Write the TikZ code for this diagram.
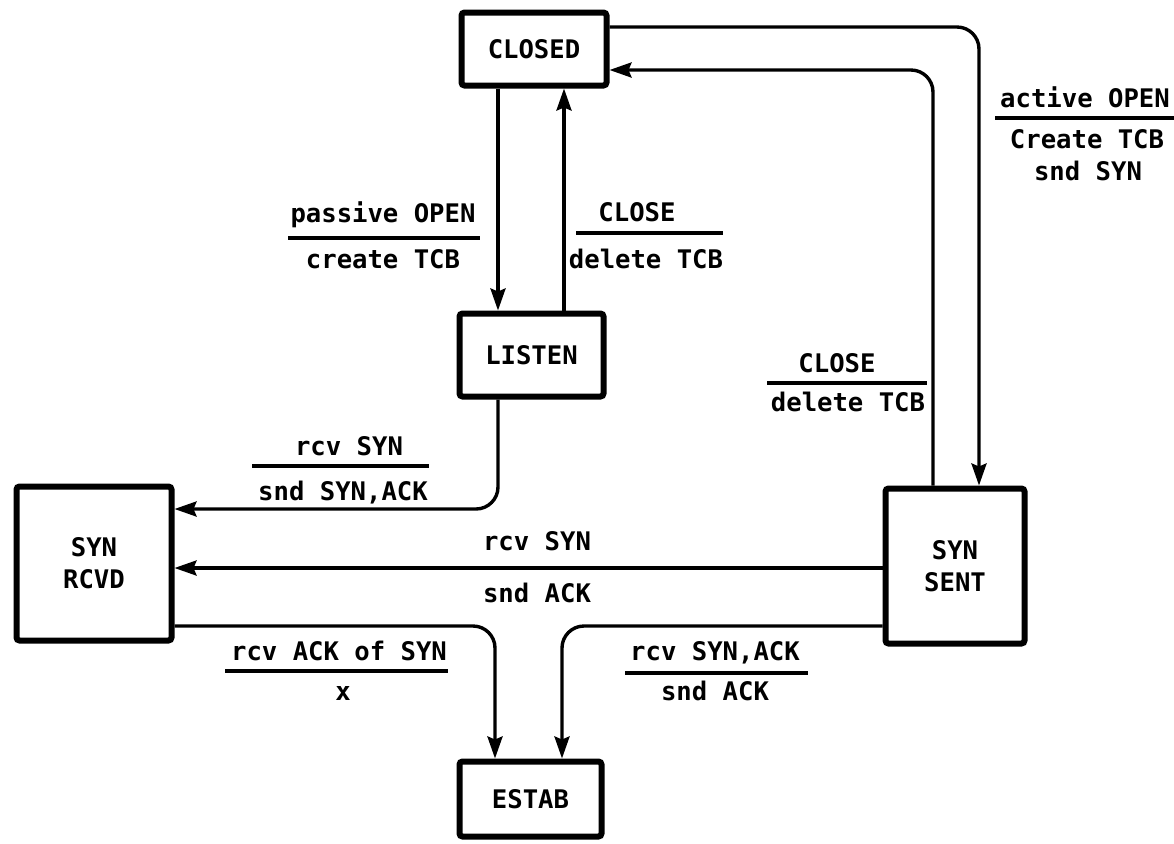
\documentclass[tikz,border=0pt]{standalone}
\usepackage{fontspec}
\setmonofont{DejaVu Sans Mono}
\usetikzlibrary{arrows.meta}
\newcommand{\plotfont}{\ttfamily\bfseries\fontsize{12.8}{16}\selectfont}
\tikzset{
  state/.style={draw=black, line width=3pt, rounded corners=1.5pt, inner sep=0pt, align=center, font=\plotfont},
  conn/.style={line width=1.7pt, rounded corners=11pt, -{Stealth[length=11pt,width=7.5pt,inset=1.5pt]}},
  bar/.style={line width=1.6pt},
  lbl/.style={inner sep=0pt, anchor=base, font=\plotfont},
}

\begin{document}
\begin{tikzpicture}[x=0.5pt,y=-0.5pt]
\useasboundingbox (0,0) rectangle (1174,843);
\node[state, minimum width=72.5pt, minimum height=36.5pt] (closed) at (534,49) {CLOSED};
\node[state, minimum width=72pt, minimum height=41.5pt] (listen) at (531.5,355) {LISTEN};
\node[state, minimum width=71pt, minimum height=37.5pt] (estab) at (530.5,799) {ESTAB};
\node[state, minimum width=77.5pt, minimum height=77pt] (synrcvd) at (94,563.5) {SYN\\RCVD};
\node[state, minimum width=69.5pt, minimum height=77.5pt] (synsent) at (955,566) {SYN\\SENT};
\coordinate (xa) at (498,0);
\coordinate (xb) at (564,0);
\coordinate (xc) at (979,0);
\coordinate (xd) at (933,0);
\coordinate (xe) at (495,0);
\coordinate (xf) at (562,0);
\coordinate (ya) at (0,27);
\coordinate (yb) at (0,70);
\coordinate (yc) at (0,509);
\coordinate (yd) at (0,568);
\coordinate (ye) at (0,626);
\draw[conn] (closed.south -| xa) -- (listen.north -| xa);
\draw[conn] (listen.north -| xb) -- (closed.south -| xb);
\draw[conn] (closed.east |- ya) -| (synsent.north -| xc);
\draw[conn] (synsent.north -| xd) |- (closed.east |- yb);
\draw[conn] (listen.south -| xa) |- (synrcvd.east |- yc);
\draw[conn] (synsent.west |- yd) -- (synrcvd.east |- yd);
\draw[conn] (synrcvd.east |- ye) -| (estab.north -| xe);
\draw[conn] (synsent.west |- ye) -| (estab.north -| xf);
\node[lbl] (po1) at (383,222) {passive OPEN};
\node[lbl] (po2) at (383,268) {create TCB};
\draw[bar] (288,238) -- (480,238);
\node[lbl] (cl1) at (637,221) {CLOSE};
\node[lbl] (cl2) at (646,268) {delete TCB};
\draw[bar] (576,233) -- (723,233);
\node[lbl] (ao1) at (1085,107) {active OPEN};
\node[lbl] (ao2) at (1087,148) {Create TCB};
\node[lbl] (ao3) at (1088,180) {snd SYN};
\draw[bar] (995,118) -- (1174,118);
\node[lbl] (sc1) at (837,372) {CLOSE};
\node[lbl] (sc2) at (848,411) {delete TCB};
\draw[bar] (767,383) -- (927,383);
\node[lbl] (rs1) at (349,455) {rcv SYN};
\node[lbl] (rs2) at (343,500) {snd SYN,ACK};
\draw[bar] (252,466) -- (429,466);
\node[lbl] (ss1) at (537,550) {rcv SYN};
\node[lbl] (ss2) at (537,602) {snd ACK};
\node[lbl] (ra1) at (339,660) {rcv ACK of SYN};
\node[lbl] (ra2) at (343,700) {x};
\draw[bar] (225,671) -- (448,671);
\node[lbl] (sa1) at (715,660) {rcv SYN,ACK};
\node[lbl] (sa2) at (715,700) {snd ACK};
\draw[bar] (625,673) -- (808,673);
\end{tikzpicture}
\end{document}
